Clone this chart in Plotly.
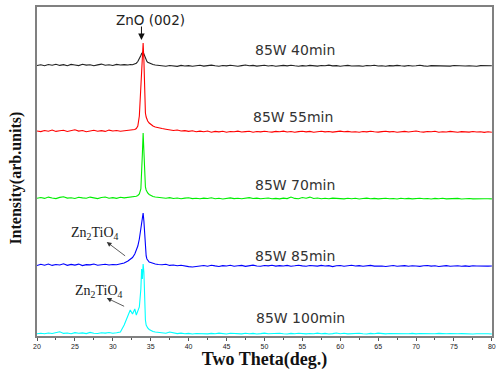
import plotly.graph_objects as go

# ---- data ----
two_theta = [
    20.0, 20.5, 21.0, 21.5, 22.0, 22.5, 23.0, 23.5, 24.0, 24.5,
    25.0, 25.5, 26.0, 26.5, 27.0, 27.5, 28.0, 28.5, 29.0, 29.5,
    30.0, 30.5, 31.0, 31.5,
    32.0, 32.3, 32.6, 32.9, 33.1, 33.3, 33.5, 33.7, 33.8, 33.9,
    34.0, 34.1, 34.2, 34.3, 34.4, 34.5, 34.6, 34.8, 35.0, 35.3,
    35.6, 36.0,
    36.5, 37.0, 37.5, 38.0, 38.5, 39.0, 39.5, 40.0, 40.5, 41.0,
    41.5, 42.0, 42.5, 43.0, 43.5, 44.0, 44.5, 45.0, 45.5, 46.0,
    46.5, 47.0, 47.5, 48.0, 48.5, 49.0, 49.5, 50.0, 50.5, 51.0,
    51.5, 52.0, 52.5, 53.0, 53.5, 54.0, 54.5, 55.0, 55.5, 56.0,
    56.5, 57.0, 57.5, 58.0, 58.5, 59.0, 59.5, 60.0, 60.5, 61.0,
    61.5, 62.0, 62.5, 63.0, 63.5, 64.0, 64.5, 65.0, 65.5, 66.0,
    66.5, 67.0, 67.5, 68.0, 68.5, 69.0, 69.5, 70.0, 70.5, 71.0,
    71.5, 72.0, 72.5, 73.0, 73.5, 74.0, 74.5, 75.0, 75.5, 76.0,
    76.5, 77.0, 77.5, 78.0, 78.5, 79.0, 79.5, 80.0,
]

int_40min = [
    0.5, 1.2, 0.2, 1.5, 0.8, 1.8, 0.6, 1.4, 0.3, 1.6,
    1.0, 0.4, 1.7, 0.9, 1.3, 0.2, 1.1, 1.9, 0.7, 1.2,
    0.5, 1.6, 1.0, 1.4,
    1.0, 1.5, 1.2, 2.0, 2.8, 4.5, 7.0, 10.5, 12.5, 13.5,
    14.0, 12.0, 9.5, 7.0, 5.5, 4.5, 3.8, 3.0, 2.2, 1.5,
    1.0, 0.6,
    0.3, -0.2, 0.5, 0.1, -0.4, 0.6, 0.0, 0.4, -0.3, 0.2,
    0.7, -0.1, 0.3, 0.9, 0.2, -0.3, 0.5, 0.1, 0.8, 0.3,
    -0.2, 0.4, 1.0, 0.2, 0.6, -0.1, 0.3, 0.7, 0.0, 0.5,
    -0.3, 0.2, 0.6, 0.1, 0.8, 0.2, -0.2, 0.4, 0.0, 0.6,
    0.3, -0.1, 0.5, 0.2, 0.9, 0.1, 0.4, -0.2, 0.3, 0.6,
    0.0, 0.4, 0.1, -0.3, 0.5, 0.2, 0.7, 0.0, 0.3, -0.2,
    0.4, 0.1, 0.6, 0.2, -0.1, 0.5, 0.0, 0.3, 0.7, 0.1,
    -0.2, 0.4, 0.2, 0.6, 0.0, 0.3, -0.1, 0.5, 0.2, 0.4,
    0.0, 0.3, 0.1, -0.2, 0.4, 0.2, 0.0, 0.3,
]

int_55min = [
    1.0, 0.4, 1.5, 0.8, 2.0, 0.6, 1.2, 1.8, 0.5, 1.3,
    2.2, 0.9, 1.5, 0.3, 1.1, 1.7, 0.8, 1.4, 0.6, 1.9,
    1.0, 1.5, 0.7, 1.3,
    1.2, 1.8, 2.0, 2.5, 3.5, 6.0, 16.0, 52.0, 70.0, 82.0,
    89.0, 72.0, 40.0, 19.0, 15.0, 12.5, 11.0, 9.0, 7.5, 6.0,
    5.0, 4.0,
    3.5, 2.8, 2.2, 1.5, 2.0, 1.0, 1.4, 0.6, 1.2, 0.3,
    0.9, 0.2, 1.0, -0.2, 0.6, 0.1, 0.8, -0.3, 0.5, 0.2,
    0.9, 0.0, 0.4, 0.7, -0.2, 0.5, 0.1, 0.8, 0.3, -0.1,
    0.6, 0.2, 0.9, 0.0, 0.5, -0.3, 0.4, 0.7, 0.1, 0.6,
    -0.2, 0.3, 0.8, 0.1, 0.5, -0.1, 0.4, 0.9, 0.2, 0.6,
    0.0, 0.3, -0.2, 0.5, 0.1, 0.7, 0.2, -0.1, 0.4, 0.8,
    0.1, 0.5, -0.2, 0.3, 0.6, 0.0, 0.4, 1.0, 0.2, -0.1,
    0.5, 0.2, 0.7, -0.2, 0.3, 0.0, 0.6, 0.1, -0.3, 0.4,
    0.2, -0.1, 0.5, 0.0, 0.3, -0.4, 0.2, -0.2,
]

int_70min = [
    0.8, 1.5, 0.6, 1.9, 1.0, 0.4, 1.6, 2.2, 0.9, 1.3,
    0.5, 1.8, 1.1, 0.7, 1.9, 1.2, 0.4, 1.5, 2.0, 0.8,
    1.4, 0.6, 1.7, 1.1,
    1.4, 1.6, 2.0, 2.2, 2.8, 3.5, 5.0, 10.0, 22.0, 45.0,
    66.0, 45.0, 20.0, 12.0, 9.0, 7.0, 6.0, 4.5, 3.5, 2.5,
    2.0, 1.5,
    1.2, 0.8, 1.4, 0.5, 1.0, 0.3, 0.9, 1.3, 0.4, 0.8,
    0.2, 0.9, 0.5, 1.2, 0.3, 0.7, 0.0, 0.6, 1.1, 0.4,
    0.8, 0.2, 0.6, 1.4, 0.5, 0.9, 0.3, 0.7, 1.0, 0.2,
    0.6, 0.1, 0.9, 0.4, 2.0, 0.6, 0.3, 1.5, 0.8, 1.9,
    0.5, 1.0, 0.3, 0.7, 0.2, 0.9, 0.4, 0.6, 0.1, 0.8,
    0.3, 0.7, 0.0, 0.5, 0.9, 0.2, 0.6, 0.1, 0.4, 0.8,
    0.2, 0.5, 0.0, 0.7, 0.3, 0.6, 0.1, 0.4, 0.8, 0.2,
    0.5, 0.0, 0.6, 0.3, 0.7, 0.1, 0.4, 0.2, 0.6, 0.0,
    0.3, 0.5, 0.1, 0.4, 0.0, 0.3, 0.2, 0.1,
]

int_85min = [
    0.5, 1.8, 0.8, 2.0, 0.6, 1.5, 1.0, 2.2, 0.7, 1.6,
    0.9, 1.9, 0.4, 1.4, 1.1, 2.0, 0.8, 1.3, 1.7, 1.0,
    1.5, 1.2, 1.8, 3.0,
    5.0, 6.5, 8.5, 12.0, 16.0, 20.0, 27.0, 36.0, 42.0, 48.0,
    53.0, 45.0, 28.0, 15.0, 10.0, 7.0, 5.5, 4.0, 3.5, 2.5,
    2.0, 1.5,
    1.2, 1.8, 0.6, 1.0, 0.2, 0.8, -0.2, -0.6, -1.0, -0.4,
    -0.3, 0.5, -0.2, 0.8, 0.1, -0.5, 0.4, 0.0, 0.7, -0.3,
    0.2, 0.6, -0.4, 0.3, 0.9, 0.0, -0.2, 0.5, 0.1, 0.7,
    -0.1, 0.4, 0.0, 0.6, -0.3, 0.2, 0.8, 0.1, -0.2, 0.5,
    0.3, -0.1, 0.6, 0.0, 0.4, -0.6, 0.2, 0.5, -0.2, 0.3,
    0.7, 0.0, 0.4, -0.3, 0.2, 0.6, -0.1, 0.3, 0.0, -0.5,
    0.2, 0.5, -0.2, 0.1, 0.4, -0.3, 0.3, 0.0, -0.4, 0.2,
    0.5, -0.1, 0.3, -0.5, 0.1, 0.4, -0.2, 0.0, 0.3, -0.3,
    0.1, -0.4, 0.2, 0.0, -0.2, 0.3, -0.1, 0.0,
]

int_100min = [
    0.2, 0.8, 0.3, 1.0, 0.5, 1.2, 2.2, 0.6, 1.0, 0.3,
    1.4, 0.7, 1.1, 0.4, 1.6, 0.8, 0.5, 1.3, 0.9, 1.5,
    0.7, 1.2, 2.0, 9.0,
    19.0, 24.0, 20.0, 25.0, 19.0, 23.0, 27.0, 45.0, 65.0, 55.0,
    70.0, 62.0, 30.0, 14.0, 9.0, 7.0, 6.0, 4.5, 3.5, 2.5,
    2.0, 1.5,
    1.2, 0.8, 2.0, 1.0, 0.4, 0.9, 0.2, 0.6, 0.0, 0.5,
    0.3, 0.8, 0.1, 0.6, 0.2, 0.9, 0.4, 0.0, 0.7, 0.3,
    0.5, 0.1, 0.8, 0.3, 0.6, 0.0, 0.4, 0.9, 0.2, 0.5,
    0.1, 0.7, 0.3, 0.0, 0.6, 0.2, 0.8, 0.4, 0.1, 0.5,
    0.3, 0.9, 0.2, 0.6, 0.0, 0.4, 1.0, 0.3, 0.7, 0.1,
    0.5, 0.2, 0.8, 0.3, 0.0, 0.6, 0.2, 0.9, 0.4, 0.1,
    0.5, 0.3, 0.7, 0.0, 0.4, 0.2, 0.6, 0.1, 0.5, 0.3,
    0.0, 0.4, 0.2, 0.6, 0.1, 0.3, 0.5, 0.0, 0.2, 0.4,
    0.1, 0.3, 0.0, 0.2, 0.4, 0.1, 0.3, 0.0,
]

series_names = ["85W 40min", "85W 55min", "85W 70min", "85W 85min", "85W 100min"]
series_values = [int_40min, int_55min, int_70min, int_85min, int_100min]
series_offsets = [270, 204, 137, 70, 2]   # vertical stacking offsets (arb. units)
series_colors = ["#222222", "#ff0000", "#00ee00", "#0000ff", "#00ffff"]
label_pos = [(48.45, 286), (48.2, 219), (48.5, 151), (48.5, 80), (48.6, 18)]

x_ticks = [20, 25, 30, 35, 40, 45, 50, 55, 60, 65, 70, 75, 80]

fig = go.Figure()
for name, vals, off, col in zip(series_names, series_values, series_offsets, series_colors):
    fig.add_trace(go.Scatter(
        x=two_theta, y=[v + off for v in vals], mode="lines", name=name,
        line=dict(color=col, width=1.1), showlegend=False,
    ))

SANS = "DejaVu Sans, Arial"
SERIF = "Liberation Serif, Times New Roman"

ann = []
for name, (lx, ly) in zip(series_names, label_pos):
    ann.append(dict(x=lx, y=ly, xref="x", yref="y", text=name, showarrow=False,
                    xanchor="left", yanchor="middle",
                    font=dict(family=SANS, size=14, color="#333333")))

# ZnO (002)
ann.append(dict(x=34.97, y=316, xref="x", yref="y", text="ZnO (002)", showarrow=False,
                xanchor="center", yanchor="middle",
                font=dict(family=SANS, size=13.5, color="#222222")))
ann.append(dict(x=33.78, y=296, ax=33.78, ay=311, xref="x", yref="y", axref="x", ayref="y",
                text="", showarrow=True, arrowhead=2, arrowsize=1.3, arrowwidth=1,
                arrowcolor="#111111"))

# Zn2TiO4 labels
ann.append(dict(x=27.63, y=103, xref="x", yref="y", text="Zn<sub>2</sub>TiO<sub>4</sub>",
                showarrow=False, xanchor="center", yanchor="middle",
                font=dict(family=SERIF, size=14, color="#222222")))
ann.append(dict(x=29.2, y=94, ax=31.82, ay=79, xref="x", yref="y", axref="x", ayref="y",
                text="", showarrow=True, arrowhead=2, arrowsize=1.2, arrowwidth=0.8,
                arrowcolor="#333333"))
ann.append(dict(x=28.15, y=45, xref="x", yref="y", text="Zn<sub>2</sub>TiO<sub>4</sub>",
                showarrow=False, xanchor="center", yanchor="middle",
                font=dict(family=SERIF, size=14, color="#222222")))
ann.append(dict(x=29.2, y=38, ax=31.69, ay=29, xref="x", yref="y", axref="x", ayref="y",
                text="", showarrow=True, arrowhead=2, arrowsize=1.2, arrowwidth=0.8,
                arrowcolor="#333333"))

fig.update_layout(
    width=497, height=370,
    margin=dict(l=37, r=1, t=7, b=34),
    paper_bgcolor="white", plot_bgcolor="white",
    annotations=ann,
    xaxis=dict(range=[20, 80.02], tickvals=x_ticks, ticks="outside", ticklen=3,
               tickwidth=1, tickcolor="#555555", ticklabeloverflow="allow",
               minor=dict(dtick=2.5, tick0=20, ticks="outside", ticklen=2, tickcolor="#555555"),
               tickfont=dict(family="Arial, Liberation Sans", size=7, color="#222222"),
               showline=True, linecolor="#808080", linewidth=1.5, mirror=True,
               showgrid=False, zeroline=False,
               title=dict(text="<b>Two Theta(deg.)</b>", standoff=2,
                          font=dict(family=SERIF, size=18, color="#111111"))),
    yaxis=dict(range=[0, 329], showticklabels=False, ticks="",
               showline=True, linecolor="#808080", linewidth=1.5, mirror=True,
               showgrid=False, zeroline=False),
)

fig.add_annotation(x=-0.045, y=0.48, xref="paper", yref="paper", xanchor="center", yanchor="middle",
                   text="<b>Intensity(arb.units)</b>", textangle=-90, showarrow=False,
                   font=dict(family=SERIF, size=16, color="#111111"))

fig.write_html("out.html")
